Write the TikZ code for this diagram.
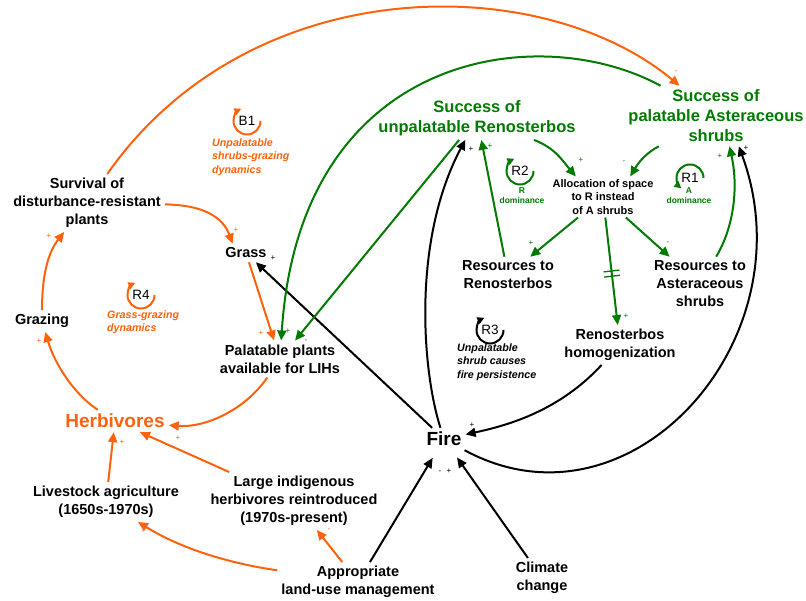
\documentclass[tikz,border=0pt]{standalone}
\usepackage{fontspec}
\setmainfont{Liberation Sans}
\usetikzlibrary{arrows.meta,calc}

\definecolor{orng}{RGB}{255,98,10}
\definecolor{grn}{RGB}{0,122,0}

\tikzset{
  var/.style={font=\fontsize{14.5}{18}\selectfont\bfseries, align=center, inner sep=4pt},
  keyvar/.style={var, font=\fontsize{16.5}{20}\selectfont\bfseries, text=grn},
  bigvar/.style={var, font=\fontsize{19}{22}\selectfont\bfseries},
  smallvar/.style={var, font=\fontsize{11}{13.3}\selectfont\bfseries, inner sep=3pt},
  pol/.style={font=\fontsize{8}{8}\selectfont, inner sep=0pt},
  looplbl/.style={font=\fontsize{13.5}{16}\selectfont, inner sep=0pt},
  loopdesc/.style={font=\fontsize{10.7}{13.3}\selectfont\bfseries\itshape, align=left, anchor=west, inner sep=0pt},
  domdesc/.style={font=\fontsize{8.5}{10}\selectfont\bfseries, align=center, text=grn, inner sep=0pt},
  link/.style={line width=2pt, -{Triangle[length=10pt,width=9pt]}},
  oarr/.style={link, draw=orng},
  garr/.style={link, draw=grn},
  karr/.style={link, draw=black},
  loopline/.style={line width=2pt, -{Triangle[length=7pt,width=7pt]}}
}

\begin{document}
\begin{tikzpicture}[x=1pt,y=-1pt]
\useasboundingbox (0,0) rectangle (806,601);

% variables
\node[var] (surv) at (87,203) {Survival of\\disturbance-resistant\\plants};
\node[var] (grass) at (246,253) {Grass};
\node[var] (grazing) at (42,321) {Grazing};
\node[var] (palat) at (280,359) {Palatable plants\\available for LIHs};
\node[bigvar, text=orng] (herb) at (115,421) {Herbivores};
\node[var] (live) at (106,502) {Livestock agriculture\\(1650s-1970s)};
\node[var] (lih) at (294,501) {Large indigenous\\herbivores reintroduced\\(1970s-present)};
\node[var] (mgmt) at (358,582) {Appropriate\\land-use management};
\node[var] (climate) at (542,578) {Climate\\change};
\node[bigvar] (fire) at (444,439) {Fire};
\node[var] (homog) at (620,345) {Renosterbos\\homogenization};
\node[var] (resR) at (508,275) {Resources to\\Renosterbos};
\node[var] (resA) at (700,284) {Resources to\\Asteraceous\\shrubs};
\node[smallvar] (alloc) at (603,197) {Allocation of space\\to R instead\\of A shrubs};
\node[keyvar] (unpal) at (477,118) {Success of\\unpalatable Renosterbos};
\node[keyvar] (pala) at (716,116) {Success of\\palatable Asteraceous\\shrubs};

% orange links
\draw[oarr] (surv) .. controls (250,-30) and (540,-30) .. (pala);
\draw[oarr] (surv) .. controls (200,205) and (222,215) .. (grass.145);
\draw[oarr] (grazing) .. controls (42,270) and (50,250) .. (surv);
\draw[oarr] (herb) .. controls (75,395) and (55,365) .. (grazing);
\draw[oarr] (grass) -- (palat);
\draw[oarr] (palat) .. controls (245,410) and (205,428) .. (herb);
\draw[oarr] (live) -- (herb);
\draw[oarr] (lih) -- (herb);
\draw[oarr] (mgmt) .. controls (220,562) and (175,545) .. (live);
\draw[oarr] (mgmt) -- (lih);

% black links
\draw[karr] (fire) -- (grass);
\draw[karr] (fire) .. controls (422,370) and (412,240) .. (unpal);
\draw[karr] (fire) .. controls (630,540) and (810,340) .. (pala.-53);
\draw[karr] (homog) .. controls (560,410) and (510,425) .. (fire);
\draw[karr, shorten >=9pt] (mgmt) -- (fire);
\draw[karr, shorten >=9pt] (climate) -- (fire);

% green links
\draw[garr] (unpal) -- (palat);
\draw[garr] (pala) .. controls (540,20) and (300,50) .. (palat);
\draw[garr] (unpal) .. controls (555,148) and (562,160) .. (alloc.143);
\draw[garr] (pala) .. controls (648,152) and (640,160) .. (alloc.37);
\draw[garr] (alloc) -- (resR);
\draw[garr] (alloc) -- (resA);
\draw[garr] (alloc) -- (homog);
\draw[garr] (resR) -- (unpal);
\draw[garr] (resA) .. controls (735,225) and (738,185) .. (pala.-66);

% delay mark
\coordinate (dl1) at ($(alloc)!0.50!(homog)$);
\coordinate (dl2) at ($(alloc)!0.535!(homog)$);
\draw[grn, line width=1.3pt] ($(dl1)!8pt!90:(homog)$) -- ($(dl1)!8pt!-90:(homog)$);
\draw[grn, line width=1.3pt] ($(dl2)!8pt!90:(homog)$) -- ($(dl2)!8pt!-90:(homog)$);

% polarities
\foreach \px/\py/\sg [count=\k] in {676/72/-, 236/230/+, 49/236/+, 39/341/+, 261/333/+,
    178/438/+, 122/442/+, 143/532/-, 329/530/-}
  \node[pol, text=orng] (po\k) at (\px,\py) {\sg};
\foreach \px/\py/\sg [count=\k] in {288/331/+, 306/341/-, 581/160/+, 624/162/-, 531/243/+,
    668/243/-, 626/316/+, 490/146/+, 720/156/+}
  \node[pol, text=grn] (pg\k) at (\px,\py) {\sg};
\foreach \px/\py/\sg [count=\k] in {273/258/+, 471/149/+, 746/148/+, 472/425/+, 440/472/-, 449/471/+}
  \node[pol] (pk\k) at (\px,\py) {\sg};

% loops
\node[looplbl] (b1) at (247,121) {B1};
\draw[loopline, draw=orng] ([shift={(0:13.5pt)}]b1.center) arc[start angle=0, end angle=-245, radius=13.5pt];
\node[loopdesc, text=orng] (b1d) at (212,157) {Unpalatable\\shrubs-grazing\\dynamics};

\node[looplbl] (r4) at (141,295) {R4};
\draw[loopline, draw=orng] ([shift={(0:13.5pt)}]r4.center) arc[start angle=0, end angle=-245, radius=13.5pt];
\node[loopdesc, text=orng] (r4d) at (107,322) {Grass-grazing\\dynamics};

\node[looplbl] (r2) at (520,171) {R2};
\draw[loopline, draw=grn] ([shift={(0:13.5pt)}]r2.center) arc[start angle=0, end angle=-245, radius=13.5pt];
\node[domdesc] (r2d) at (522,196) {R\\dominance};

\node[looplbl] (r1) at (690,178) {R1};
\draw[loopline, draw=grn] ([shift={(0:13.5pt)}]r1.center) arc[start angle=0, end angle=230, radius=13.5pt];
\node[domdesc] (r1d) at (689,196) {A\\dominance};

\node[looplbl] (r3) at (490,330) {R3};
\draw[loopline, draw=black] ([shift={(0:13.5pt)}]r3.center) arc[start angle=0, end angle=-245, radius=13.5pt];
\node[loopdesc] (r3d) at (457,362) {Unpalatable\\shrub causes\\fire persistence};

\end{tikzpicture}
\end{document}
